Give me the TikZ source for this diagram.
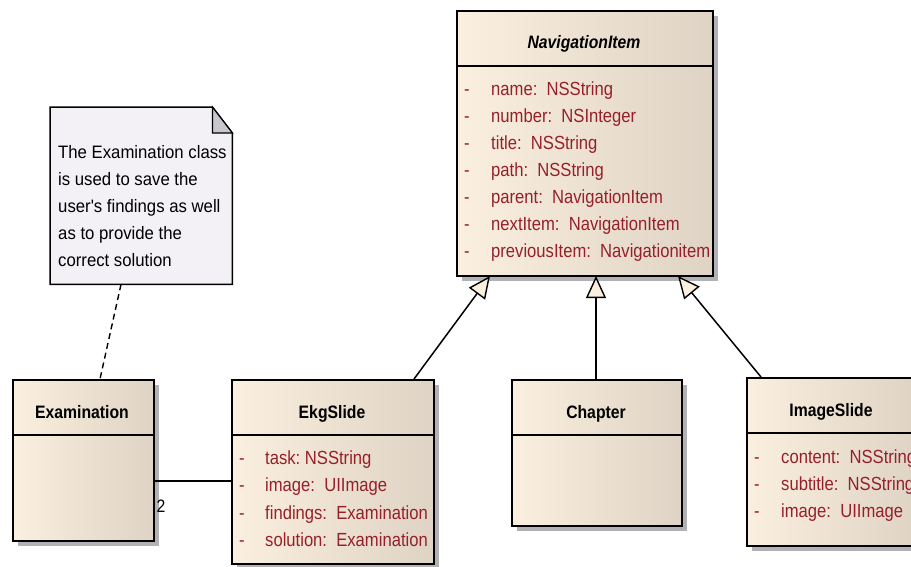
\documentclass[tikz,border=0pt]{standalone}
\usepackage{fontspec}
\setmainfont{Liberation Sans}[FakeStretch=0.875]
\newfontfamily\notefont{Liberation Sans}[FakeStretch=0.93]
\usetikzlibrary{arrows.meta,shadows,calc}
\definecolor{cream}{RGB}{251,240,223}
\definecolor{beige}{RGB}{222,211,196}
\definecolor{attrc}{RGB}{150,32,42}
\definecolor{notec}{RGB}{243,240,246}
\definecolor{foldc}{RGB}{200,200,204}
\definecolor{shadowc}{RGB}{178,178,182}
\tikzset{
  classbox/.style={draw=black, line width=1.8pt, left color=cream, middle color=cream, right color=beige,
    anchor=north west, inner sep=0,
    drop shadow={shadow xshift=5pt, shadow yshift=-5pt, fill=shadowc, opacity=1}},
  hdr/.style={font=\fontsize{18}{20}\selectfont\bfseries, anchor=mid, inner sep=0},
  attr/.style={font=\fontsize{19}{21}\selectfont, text=attrc, anchor=mid west, inner sep=0},
  dashmark/.style={font=\fontsize{19}{21}\selectfont, text=attrc, anchor=mid, inner sep=0},
  divider/.style={line width=1.6pt},
  notetext/.style={font=\notefont\fontsize{18}{20}\selectfont, anchor=mid west, inner sep=0},
  gen/.style={line width=1.5pt, -{Triangle[length=22pt,width=20pt,fill=cream,line width=1.4pt]}},
  assoc/.style={line width=1.5pt},
  anchorline/.style={line width=1.4pt, dash pattern=on 6pt off 4pt},
}
\begin{document}
\begin{tikzpicture}[x=1pt,y=-1pt]
\useasboundingbox (0,0) rectangle (911,566);
\clip (0,0) rectangle (911,566);

% NavigationItem
\node[classbox, minimum width=256, minimum height=265] (nav) at (456,10) {};
\draw[divider] (nav.west |- 0,66) -- (nav.east |- 0,66);
\node[hdr, font=\fontsize{18}{20}\selectfont\bfseries\itshape] (navh) at (584,46) {NavigationItem};
\foreach \t [count=\i from 0] in {name:\ \ NSString, number:\ \ NSInteger, title:\ \ NSString, path:\ \ NSString, parent:\ \ NavigationItem, nextItem:\ \ NavigationItem, previousItem:\ \ Navigationitem} {
  \node[dashmark] (navd\i) at (467,93+27*\i) {-};
  \node[attr] (nava\i) at (491,93+27*\i) {\t};
}

% Examination
\node[classbox, minimum width=141, minimum height=161] (exam) at (12,379) {};
\draw[divider] (exam.west |- 0,435) -- (exam.east |- 0,435);
\node[hdr] (examh) at (82,416) {Examination};

% EkgSlide
\node[classbox, minimum width=202, minimum height=184] (ekg) at (231,379) {};
\draw[divider] (ekg.west |- 0,435) -- (ekg.east |- 0,435);
\node[hdr] (ekgh) at (332,416) {EkgSlide};
\foreach \t [count=\i from 0] in {task:\ NSString, image:\ \ UIImage, findings:\ \ Examination, solution:\ \ Examination} {
  \node[dashmark] (ekgd\i) at (242,462+27.3*\i) {-};
  \node[attr] (ekga\i) at (265,462+27.3*\i) {\t};
}

% Chapter
\node[classbox, minimum width=170, minimum height=146] (chap) at (511,379) {};
\draw[divider] (chap.west |- 0,435) -- (chap.east |- 0,435);
\node[hdr] (chaph) at (596,416) {Chapter};

% ImageSlide
\node[classbox, minimum width=170, minimum height=168] (img) at (746,377) {};
\draw[divider] (img.west |- 0,433) -- (img.east |- 0,433);
\node[hdr] (imgh) at (831,414) {ImageSlide};
\foreach \t [count=\i from 0] in {content:\ \ NSString, subtitle:\ \ NSString, image:\ \ UIImage} {
  \node[dashmark] (imgd\i) at (757,461+27*\i) {-};
  \node[attr] (imga\i) at (781,461+27*\i) {\t};
}

% Note
\node[minimum width=182, minimum height=177, anchor=north west, inner sep=0] (note) at (50,107) {};
\filldraw[fill=notec, draw=black, line width=1.5pt] (note.north west) -- ($(note.north east)+(-20,0)$) -- ($(note.north east)+(0,26)$) -- (note.south east) -- (note.south west) -- cycle;
\filldraw[fill=foldc, draw=black, line width=1.2pt] ($(note.north east)+(-20,0)$) -- ($(note.north east)+(-20,26)$) -- ($(note.north east)+(0,26)$) -- cycle;
\foreach \t [count=\i from 0] in {The Examination class, is used to save the, user's findings as well, as to provide the, correct solution} {
  \node[notetext] (notel\i) at (58,156+27*\i) {\t};
}

% connectors
\coordinate (navL) at (490,276);
\coordinate (navM) at (596,276);
\coordinate (navR) at (678,276);
\coordinate (ekgT) at (414,379);
\coordinate (imgT) at (761,377);
\draw[gen] (ekgT) -- (navL);
\draw[gen] (chap.north -| navM) -- (navM);
\draw[gen] (imgT) -- (navR);
\draw[assoc] (exam.east |- 0,481) -- (ekg.west |- 0,481);
\node[font=\fontsize{18}{20}\selectfont, inner sep=0] (mult) at (161,506) {2};
\draw[anchorline] (note.south -| 121,0) -- (exam.north -| 100,0);
\end{tikzpicture}
\end{document}
